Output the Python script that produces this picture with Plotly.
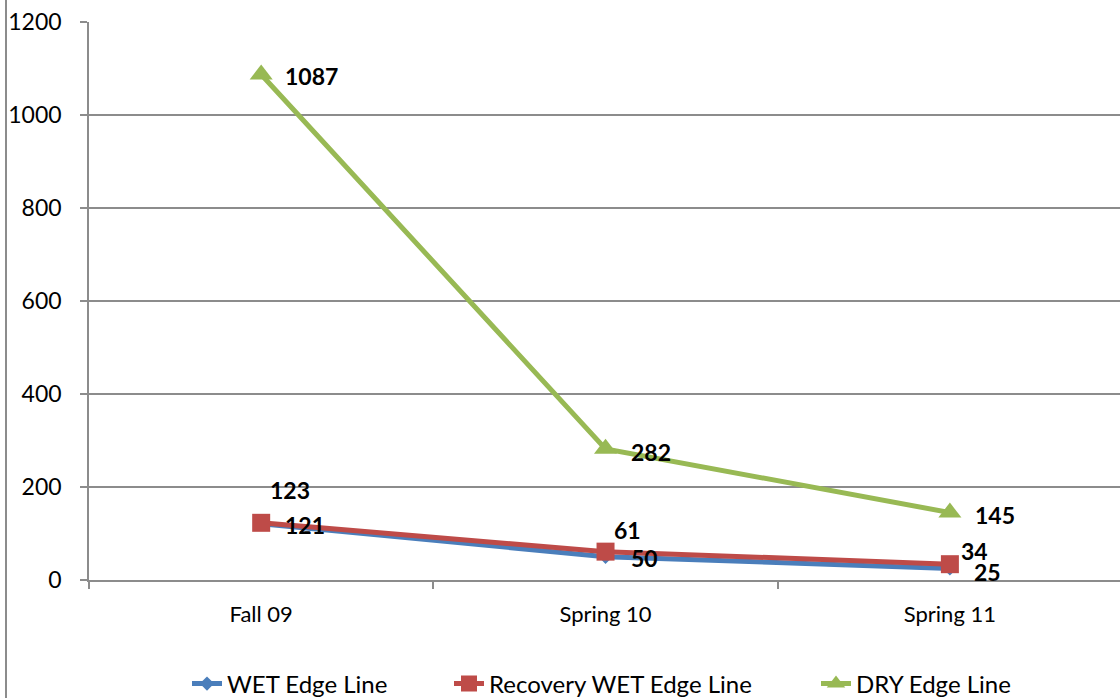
import plotly.graph_objects as go

categories = ["Fall 09", "Spring 10", "Spring 11"]
wet = [121, 50, 25]
recovery = [123, 61, 34]
dry = [1087, 282, 145]
y_ticks = [0, 200, 400, 600, 800, 1000, 1200]

# label pixel offsets (left edge of label relative to point), styling only
wet_label_off = [(22, -1), (23, -1), (22, -4)]
rec_label_off = [(7, 33), (6, 22), (9, 13)]
dry_label_off = [(22, -1), (23, -3), (23, -2)]

FONT = "Lato"
LBL = 23
fig = go.Figure()

series = [
    ("WET Edge Line", wet, "#4A7EBB", "diamond", 11, wet_label_off, "legend"),
    ("Recovery WET Edge Line", recovery, "#BE4B48", "square", 18, rec_label_off, "legend2"),
    ("DRY Edge Line", dry, "#98B954", "triangle-up", 20, dry_label_off, "legend3"),
]
for name, vals, col, sym, sz, offs, leg in series:
    fig.add_trace(go.Scatter(
        x=categories, y=vals, name=name, mode="lines+markers",
        line=dict(color=col, width=5),
        marker=dict(symbol=sym, size=sz, color=col),
        legend=leg,
    ))
    for c, v, (dx, dy) in zip(categories, vals, offs):
        fig.add_annotation(x=c, y=v, text=f"<b>{v}</b>", showarrow=False,
                           xanchor="left", yanchor="middle", xshift=dx, yshift=dy,
                           font=dict(family=FONT, size=LBL, color="black"))

def leg(x):
    return dict(orientation="h", x=x, xanchor="left", y=-0.1864, yanchor="middle",
                font=dict(family=FONT, size=24, color="black"), bgcolor="rgba(0,0,0,0)")

plot_l, plot_w = 89, 1031
fig.update_layout(
    width=1120, height=698,
    margin=dict(l=89, r=0, t=22, b=118, autoexpand=False),
    paper_bgcolor="white", plot_bgcolor="white",
    font=dict(family=FONT, size=24, color="black"),
    showlegend=True,
    legend=leg((187 - plot_l) / plot_w),
    legend2=leg((449 - plot_l) / plot_w),
    legend3=leg((816 - plot_l) / plot_w),
    shapes=[dict(type="line", xref="paper", yref="paper", x0=-0.0805, x1=-0.0805,
                 y0=-0.3, y1=1.1, line=dict(color="#8c8c8c", width=2))],
)
fig.update_xaxes(
    type="category", range=[-0.5, 2.494], showgrid=False,
    showline=True, linecolor="#8c8c8c", linewidth=1.5,
    ticks="outside", ticklen=7, tickcolor="#8c8c8c", tickwidth=1.5,
    tickson="boundaries", tickfont=dict(family=FONT, size=22),
    ticklabelstandoff=14, automargin=False,
)
fig.update_yaxes(
    range=[0, 1200], tickvals=y_ticks, showgrid=True, gridcolor="#8c8c8c", gridwidth=1.5,
    showline=True, linecolor="#8c8c8c", linewidth=1.5,
    ticks="outside", ticklen=7, tickcolor="#8c8c8c", tickwidth=1.5,
    ticklabelstandoff=14, zeroline=False, tickfont=dict(family=FONT, size=23),
    automargin=False,
)

fig.write_html("out.html", config={"displayModeBar": False},
               post_script="document.body.style.margin='0px';document.body.style.overflow='hidden';")
